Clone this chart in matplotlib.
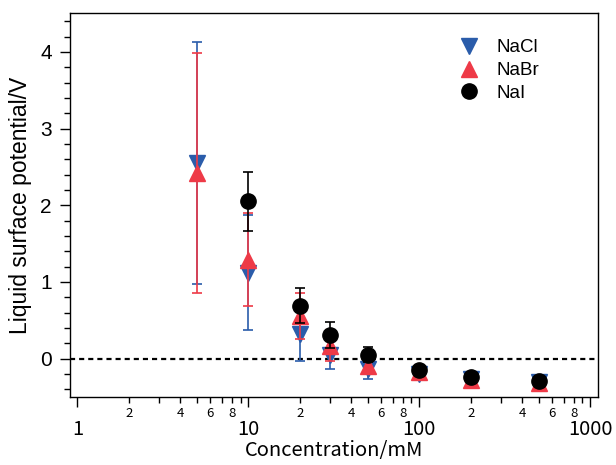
import numpy as np
import matplotlib
matplotlib.use('Agg')
import matplotlib.pyplot as plt
from matplotlib.ticker import FixedLocator, FixedFormatter
from matplotlib.lines import Line2D

# concentration in mM
conc = [5, 10, 20, 30, 50, 100, 200, 500]
conc_nai = [10, 20, 30, 50, 100, 200, 500]

nacl = [2.55, 1.12, 0.32, 0.05, -0.14, -0.20, -0.26, -0.30]
nacl_err = [1.58, 0.75, 0.35, 0.19, 0.12, 0.06, 0.04, 0.03]
nabr = [2.42, 1.29, 0.56, 0.17, -0.10, -0.18, -0.28, -0.32]
nabr_err = [1.57, 0.61, 0.30, 0.20, 0.10, 0.05, 0.03, 0.03]
nai = [2.05, 0.69, 0.31, 0.05, -0.15, -0.24, -0.29]
nai_err = [0.39, 0.23, 0.165, 0.10, 0.05, 0.03, 0.03]

major_ticks = [1, 10, 100, 1000]
major_labels = ['1', '10', '100', '1000']

blue = '#2a5caa'
red = '#ee3a47'

sans = ['Liberation Sans', 'DejaVu Sans']
jp = ['Noto Sans CJK JP', 'DejaVu Sans']

fig = plt.figure(figsize=(6.16, 4.65), dpi=100)
ax = fig.add_axes([70 / 616, 1 - 397 / 465, 528 / 616, 383.5 / 465])

ax.axhline(0, color='black', lw=1.6, dashes=(2.3, 1.8), zorder=1)

series = [
    (conc, nacl, nacl_err, blue, 'v', 'NaCl'),
    (conc, nabr, nabr_err, red, '^', 'NaBr'),
    (conc_nai, nai, nai_err, 'black', 'o', 'NaI'),
]
handles = []
for i, (x, y, e, c, m, lab) in enumerate(series):
    ax.errorbar(x, y, yerr=e, fmt='none', ecolor=c, elinewidth=1.2,
                capsize=3.5, capthick=1.2, zorder=2 + i)
    ms = 11 if m == 'o' else 11.5
    ax.plot(x, y, linestyle='none', marker=m, color=c, ms=ms, zorder=2 + i)
    handles.append(Line2D([], [], linestyle='none', marker=m, color=c, ms=ms, label=lab))

ax.set_xscale('log')
ax.set_xlim(0.906, 1109)
ax.set_ylim(-0.5, 4.5)

# x axis ticks
ax.xaxis.set_major_locator(FixedLocator(major_ticks))
ax.xaxis.set_major_formatter(FixedFormatter(major_labels))
minor = []
minor_lab = []
for dec in [1, 10, 100]:
    for k in range(2, 10):
        minor.append(dec * k)
        minor_lab.append(str(k) if k in (2, 4, 6, 8) else '')
ax.xaxis.set_minor_locator(FixedLocator(minor))
ax.xaxis.set_minor_formatter(FixedFormatter(minor_lab))
ax.tick_params(axis='x', which='major', direction='out', length=7, width=1,
               pad=9, labelsize=14.5)
ax.tick_params(axis='x', which='minor', direction='out', length=4, width=1,
               pad=3, labelsize=9.5)
for lbl in ax.get_xticklabels(which='both'):
    lbl.set_family(jp)

# y axis ticks
ax.set_yticks([0, 1, 2, 3, 4])
ax.set_yticks(np.arange(-0.4, 4.5, 0.2), minor=True)
ax.tick_params(axis='y', which='major', direction='out', length=7, width=1,
               pad=6, labelsize=15)
ax.tick_params(axis='y', which='minor', direction='out', length=4, width=1)
for lbl in ax.get_yticklabels():
    lbl.set_family(sans)

for s in ax.spines.values():
    s.set_linewidth(1)

ax.set_xlabel('Concentration/mM', fontsize=14.5, family=jp, labelpad=0)
ax.set_ylabel('Liquid surface potential/V', fontsize=16.5, family=sans, labelpad=6)

ax.legend(handles=handles, loc='upper left', bbox_to_anchor=(448 / 616, 1 - 30 / 465),
          bbox_transform=fig.transFigure, frameon=False, handlelength=1.2,
          handletextpad=0.9, labelspacing=0.3, borderpad=0,
          prop={'family': sans, 'size': 13.5})

fig.savefig('out.png', dpi=100)
